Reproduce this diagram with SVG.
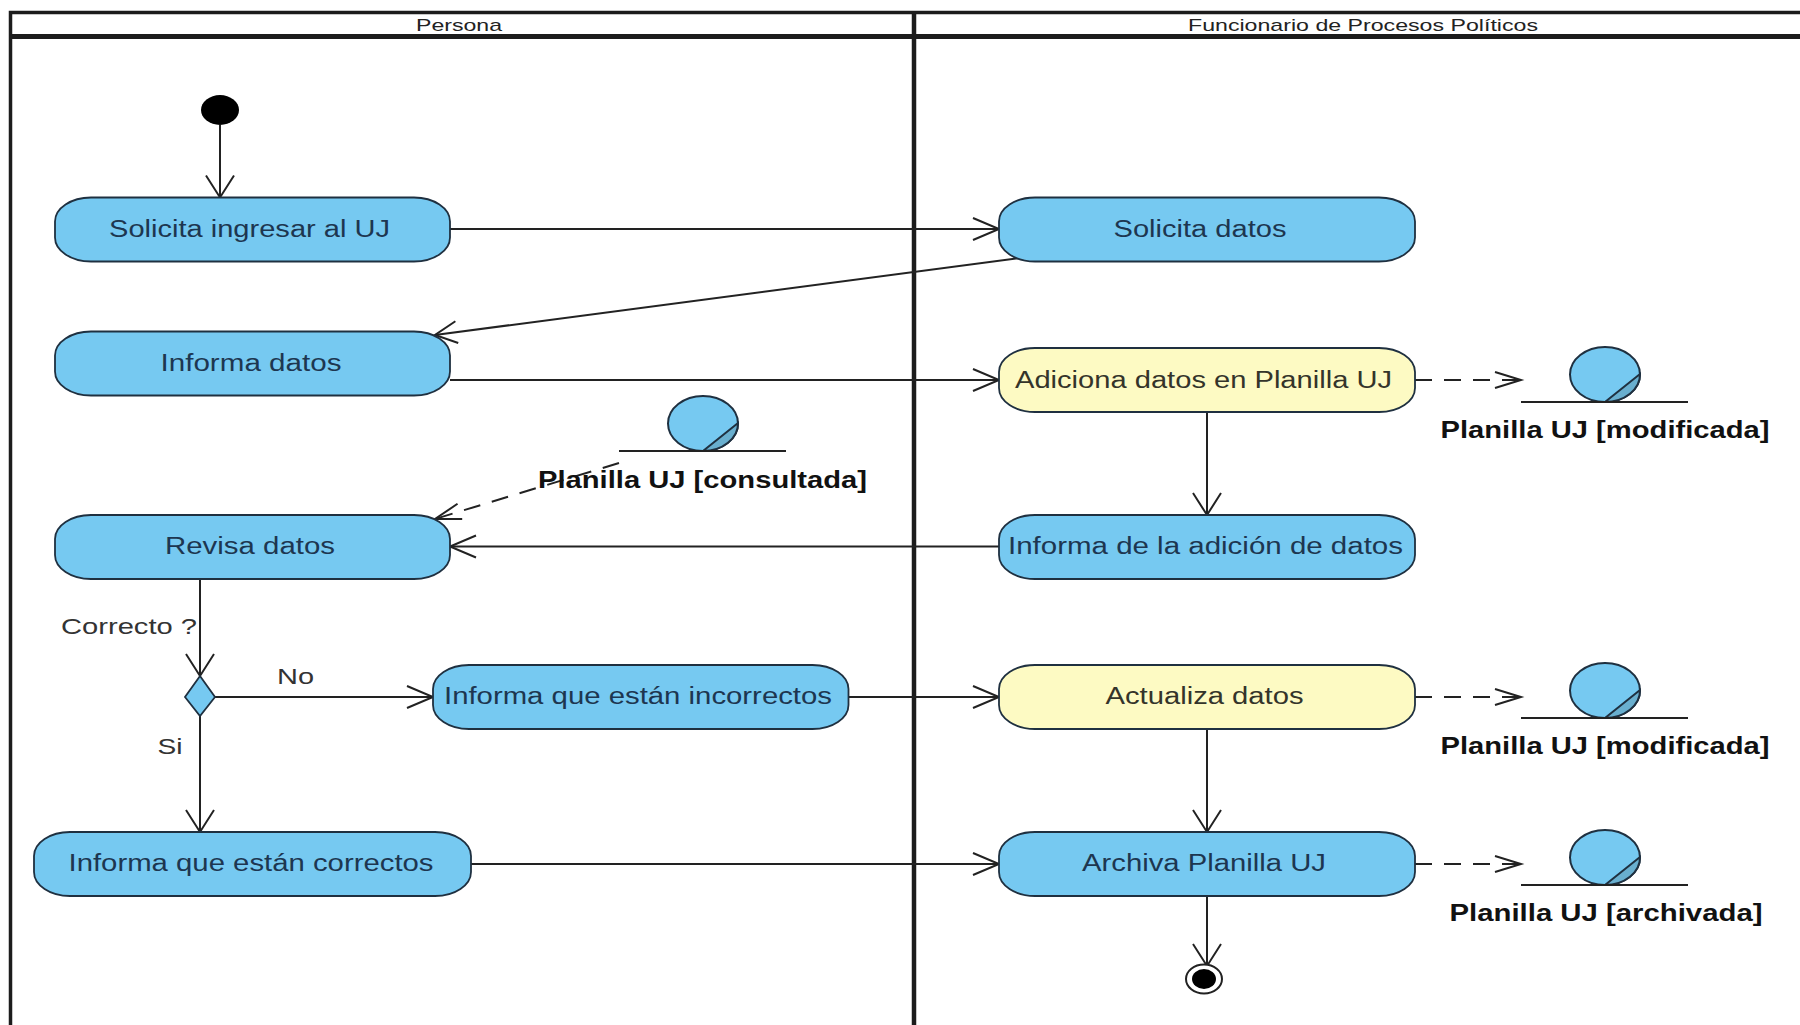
<svg xmlns="http://www.w3.org/2000/svg" width="1800" height="1025" viewBox="0 0 1800 1025">
<style>
text{font-family:"Liberation Sans",Arial,sans-serif;text-anchor:middle}
.lane{fill:none;stroke:#1c1c1c}
.act{stroke:#1f3040;stroke-width:1.8}
.blue{fill:#76c9f1}
.yel{fill:#fdfac3}
.t{font-size:23px;fill:#1d3650;}
.ty{font-size:23px;fill:#34342a}
.hd{font-size:17px;fill:#222}
.g{font-size:22px;fill:#333}
.ol{font-size:23px;font-weight:bold;fill:#111}
.c{fill:none;stroke:#222;stroke-width:2}
.d{stroke-dasharray:17 12}
.o{fill:#76c9f1;stroke:#1f3040;stroke-width:2}
.oc{fill:#69afcf;stroke:#1f3040;stroke-width:2}
.ln{fill:none;stroke:#222;stroke-width:2}
.mk{fill:none;stroke:#222;stroke-width:2}
</style>
<defs>
<marker id="ah" markerUnits="userSpaceOnUse" markerWidth="32" markerHeight="28" refX="28" refY="14" orient="auto"><path class="mk" d="M2,3 L28,14 L2,25"/></marker>
<marker id="av" markerUnits="userSpaceOnUse" markerWidth="32" markerHeight="32" refX="28" refY="16" orient="auto"><path class="mk" d="M6,2 L28,16 L6,30"/></marker>
<marker id="ag" markerUnits="userSpaceOnUse" markerWidth="32" markerHeight="28" refX="28" refY="14" orient="auto"><path class="mk" d="M6,3 L28,14 L6,25"/></marker>
<marker id="ad" markerUnits="userSpaceOnUse" markerWidth="32" markerHeight="24" refX="28" refY="12" orient="auto"><path class="mk" d="M2,4 L28,12 L2,20"/></marker>
<g id="objshape">
<ellipse class="o" cx="0" cy="-27.500" rx="35" ry="27.500"/>
<path class="oc" d="M0,0 L35,-28 A35,27.500 0 0 1 0,0 Z"/>
<path class="ln" d="M-84,0 H83"/>
</g>
</defs>
<rect width="1800" height="1025" fill="#fff"/>
<g id="lanes">
<path class="lane" stroke-width="3.500" d="M1800,12.500 H10.500 V1025"/>
<path class="lane" stroke-width="5" d="M10,36.500 H1800"/>
<path class="lane" stroke-width="4.500" d="M914,12 V1025"/>
<text class="hd" x="459" y="31" textLength="86" lengthAdjust="spacingAndGlyphs">Persona</text>
<text class="hd" x="1363" y="31" textLength="350" lengthAdjust="spacingAndGlyphs">Funcionario de Procesos Políticos</text>
</g>
<g id="connectors">
<path class="c" d="M220,125 V197.500" marker-end="url(#av)"/>
<path class="c" d="M450,229 H999" marker-end="url(#ah)"/>
<path class="c" d="M1020,258 L435,335" marker-end="url(#ag)"/>
<path class="c" d="M450,380 H999" marker-end="url(#ah)"/>
<path class="c d" d="M1415,380 H1521" marker-end="url(#ad)"/>
<path class="c" d="M1207,412 V515" marker-end="url(#av)"/>
<path class="c" d="M999,546.500 H450" marker-end="url(#ah)"/>
<path class="c d" d="M619,463 L435,519" marker-end="url(#ad)"/>
<path class="c" d="M200,578 V676" marker-end="url(#av)"/>
<path class="c" d="M215,697 H433" marker-end="url(#ah)"/>
<path class="c" d="M200,716 V832" marker-end="url(#av)"/>
<path class="c" d="M848,697 H999" marker-end="url(#ah)"/>
<path class="c" d="M471,864 H999" marker-end="url(#ah)"/>
<path class="c d" d="M1415,697 H1521" marker-end="url(#ad)"/>
<path class="c" d="M1207,729 V832" marker-end="url(#av)"/>
<path class="c d" d="M1415,864 H1521" marker-end="url(#ad)"/>
<path class="c" d="M1207,895 V966" marker-end="url(#av)"/>
<text class="g" x="129" y="633.500" textLength="136" lengthAdjust="spacingAndGlyphs">Correcto ?</text>
<text class="g" x="295.500" y="684" textLength="37" lengthAdjust="spacingAndGlyphs">No</text>
<text class="g" x="170" y="754" textLength="25" lengthAdjust="spacingAndGlyphs">Si</text>
</g>
<g id="start"><ellipse cx="220" cy="110" rx="19" ry="15" fill="#000"/></g>
<g id="n1"><rect class="act blue" x="55" y="197.500" width="395" height="64" rx="36" ry="24"/><text class="t" x="249.500" y="237" textLength="281" lengthAdjust="spacingAndGlyphs">Solicita ingresar al UJ</text></g>
<g id="n2"><rect class="act blue" x="55" y="331.500" width="395" height="64" rx="36" ry="24"/><text class="t" x="251" y="370.500" textLength="181" lengthAdjust="spacingAndGlyphs">Informa datos</text></g>
<g id="n3"><rect class="act blue" x="55" y="515" width="395" height="64" rx="36" ry="24"/><text class="t" x="250" y="553.500" textLength="170" lengthAdjust="spacingAndGlyphs">Revisa datos</text></g>
<g id="n4"><rect class="act blue" x="999" y="197.500" width="416" height="64" rx="36" ry="24"/><text class="t" x="1200" y="237" textLength="173" lengthAdjust="spacingAndGlyphs">Solicita datos</text></g>
<g id="n5"><rect class="act yel" x="999" y="348" width="416" height="64" rx="36" ry="24"/><text class="ty" x="1203.500" y="387.500" textLength="377" lengthAdjust="spacingAndGlyphs">Adiciona datos en Planilla UJ</text></g>
<g id="n6"><rect class="act blue" x="999" y="515" width="416" height="64" rx="36" ry="24"/><text class="t" x="1205.500" y="553.500" textLength="395" lengthAdjust="spacingAndGlyphs">Informa de la adición de datos</text></g>
<g id="n7"><rect class="act yel" x="999" y="665" width="416" height="64" rx="36" ry="24"/><text class="ty" x="1204.500" y="704" textLength="198" lengthAdjust="spacingAndGlyphs">Actualiza datos</text></g>
<g id="n8"><rect class="act blue" x="999" y="832" width="416" height="64" rx="36" ry="24"/><text class="t" x="1204" y="871" textLength="244" lengthAdjust="spacingAndGlyphs">Archiva Planilla UJ</text></g>
<g id="n9"><rect class="act blue" x="433" y="665" width="415.500" height="64" rx="36" ry="24"/><text class="t" x="638" y="704" textLength="388" lengthAdjust="spacingAndGlyphs">Informa que están incorrectos</text></g>
<g id="n10"><rect class="act blue" x="34" y="832" width="437" height="64" rx="36" ry="24"/><text class="t" x="251" y="871" textLength="365" lengthAdjust="spacingAndGlyphs">Informa que están correctos</text></g>
<g id="decision"><polygon class="act blue" points="200,676 215,697 200,716 185,697"/></g>
<g id="end"><ellipse cx="1204" cy="979" rx="18" ry="14.500" fill="#fff" stroke="#222" stroke-width="2"/><ellipse cx="1204" cy="979" rx="12" ry="10" fill="#000"/></g>
<g id="obj1"><use href="#objshape" x="703" y="451"/><text class="ol" x="702.500" y="487.500" textLength="329" lengthAdjust="spacingAndGlyphs">Planilla UJ [consultada]</text></g>
<g id="obj2"><use href="#objshape" x="1605" y="402"/><text class="ol" x="1605" y="437.500" textLength="329" lengthAdjust="spacingAndGlyphs">Planilla UJ [modificada]</text></g>
<g id="obj3"><use href="#objshape" x="1605" y="718"/><text class="ol" x="1605" y="754" textLength="329" lengthAdjust="spacingAndGlyphs">Planilla UJ [modificada]</text></g>
<g id="obj4"><use href="#objshape" x="1605" y="885"/><text class="ol" x="1606" y="921" textLength="313" lengthAdjust="spacingAndGlyphs">Planilla UJ [archivada]</text></g>
</svg>
